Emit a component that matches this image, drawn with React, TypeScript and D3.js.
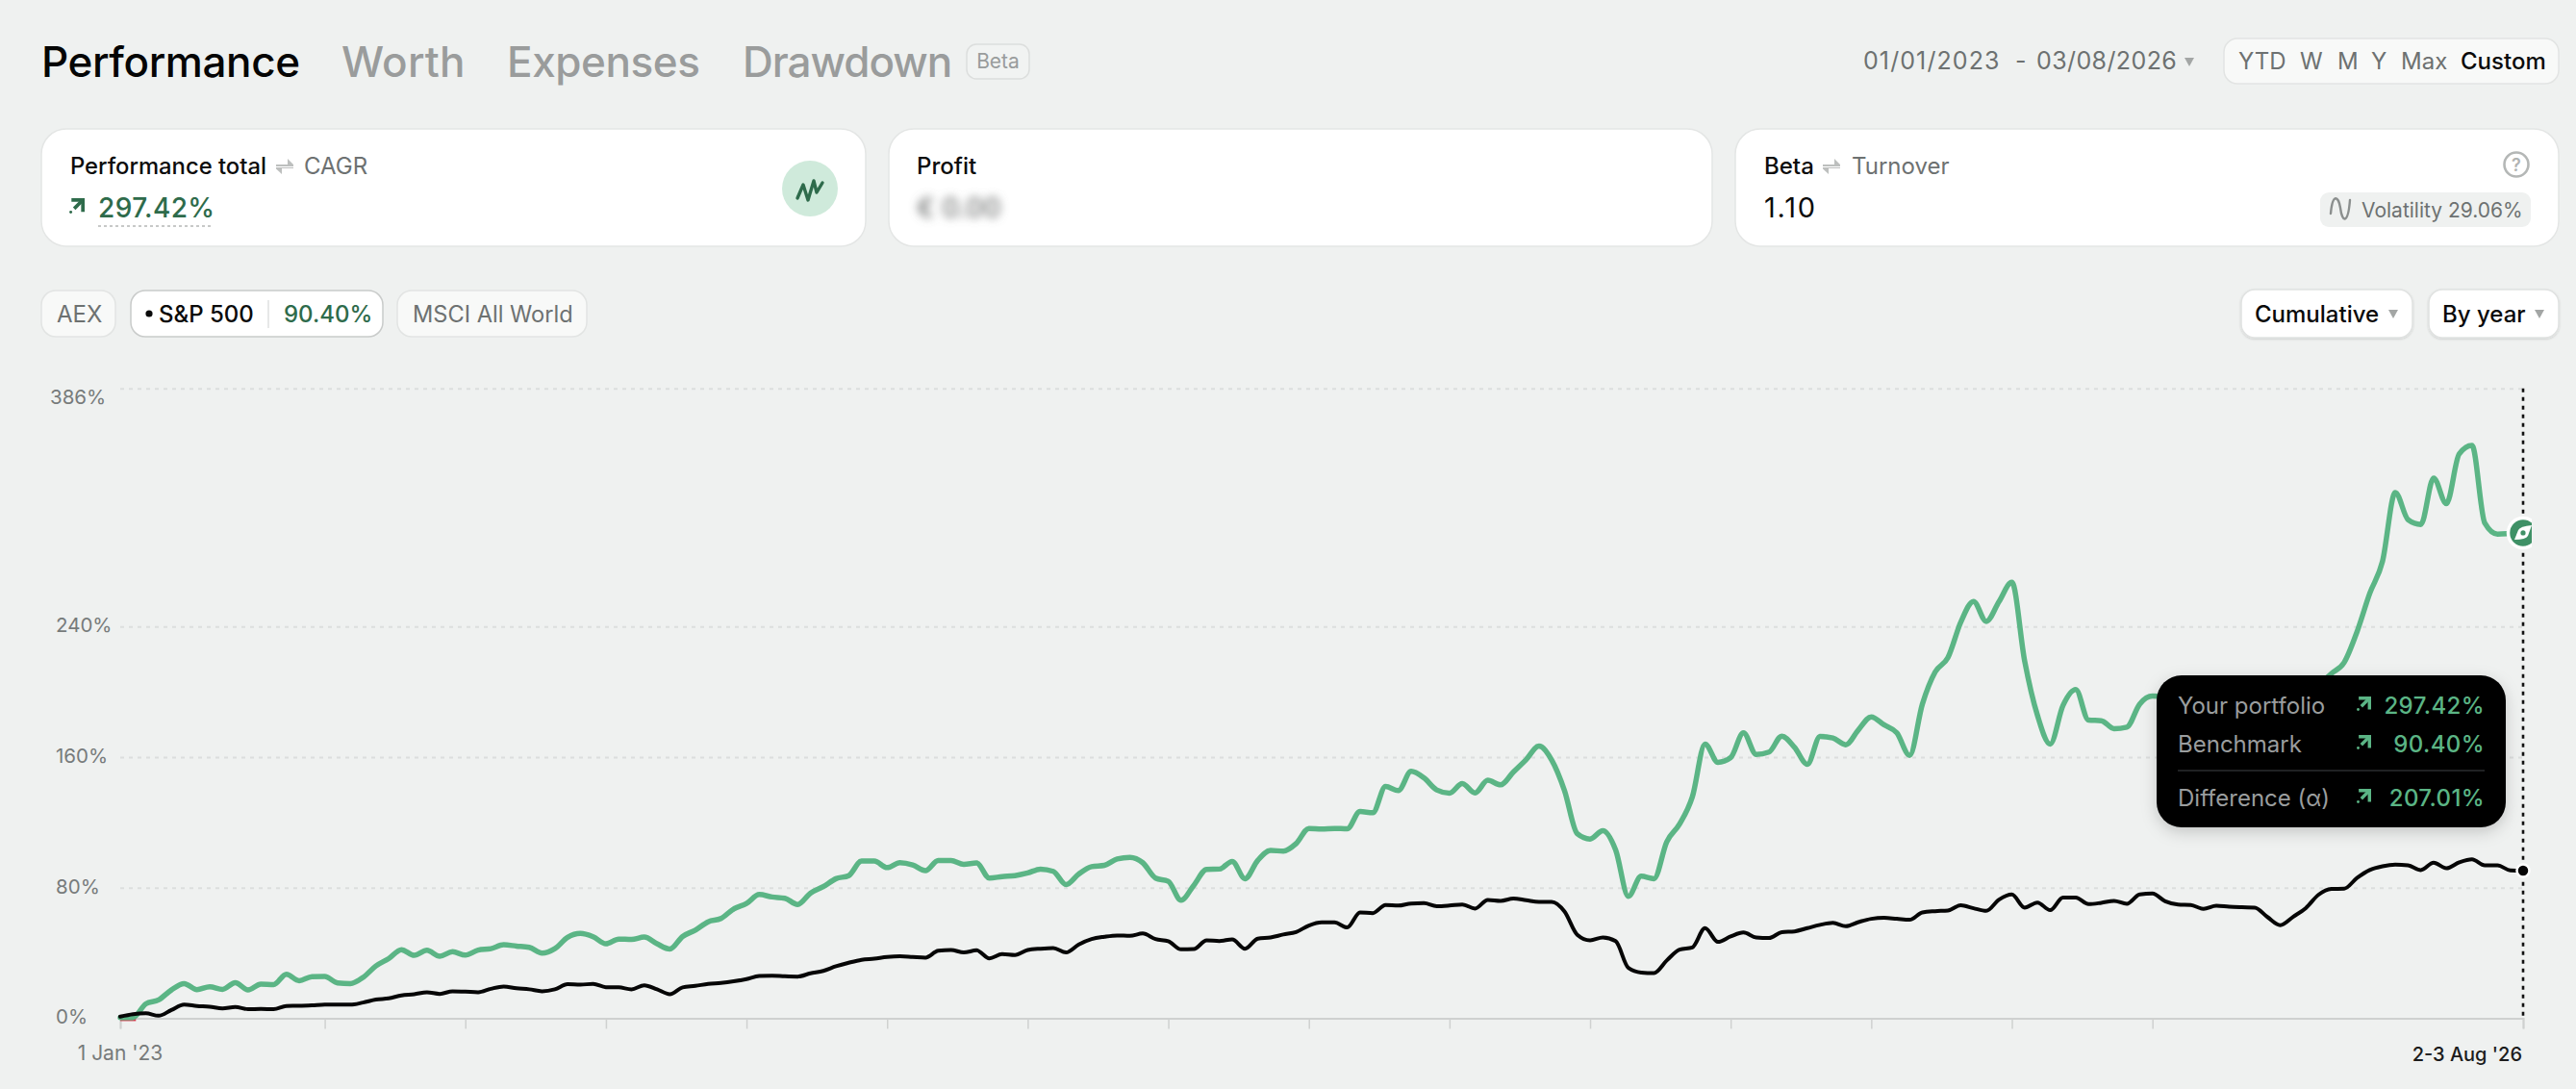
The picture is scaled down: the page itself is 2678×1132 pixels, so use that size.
import React, { useEffect, useRef } from "react";
import * as d3 from "d3";

// values, one per step of the time axis (percent)
const portfolio = [
  0.4, 0.4, 8.8, 11.2, 17.3, 21.2, 17.5, 19.3, 17.7, 21.8, 17.3, 20.8, 20.6, 26.9, 23.0, 25.5, 25.6, 21.6, 21.2, 25.0, 32, 36.5, 42, 38.5, 41.6, 38, 40.7,
  38.7, 41.7, 42.6, 45, 44.2, 43.4, 39.9, 42.6, 49.5, 51.9, 49.9, 45.6, 48.5, 48.3, 49.7, 45.6, 42.4, 50.1, 54, 59.1, 61.1, 67, 70.3, 75.8, 74.3, 73.5, 69.7,
  76.6, 80.6, 85.5, 87.4, 96.3, 96.3, 92.3, 95.3, 93.9, 90.4, 96.7, 96.7, 94.3, 95.1, 85.9, 86.8, 87.4, 89, 91.4, 90, 81.9, 88.4, 92.9, 93.7, 97.6, 98.6, 95.3,
  85.9, 83.9, 72.3, 81.5, 91.2, 91.4, 96.1, 85.5, 96.7, 102.8, 102.4, 107, 116.3, 115.9, 116.3, 116.1, 126.7, 125.9, 142, 139.5, 151.3, 147.3, 139.9, 137.9, 143.8, 138.1, 145.8,
  143, 150.9, 158.5, 166.8, 158.2, 139.5, 113, 109.8, 114.9, 103.1, 74.7, 87, 85.5, 108.1, 118.9, 135.6, 168, 156.8, 159.7, 174.9, 161.7, 163.1, 172.9, 166, 155.6, 172.7, 171.7,
  167.6, 176.8, 184.7, 179.8, 174.9, 161.1, 192.5, 212.2, 221, 242.6, 255.4, 243.2, 255.4, 267.2, 219, 185.7, 168, 191.6, 201.4, 182.7, 182.3, 177.4, 178.4, 192.5, 197.4, 197, 195,
  193, 190, 188, 189, 190, 190, 191, 192, 194, 198, 204, 211.2, 218, 236.7, 260.3, 280, 322.2, 305.5, 302.6, 331, 315.3, 345.8, 351, 303.5, 296.7, 297, 297.42,
];

const benchmark = [
  1, 2.5, 3, 1.5, 5, 8.3, 7.5, 7, 6, 6.9, 5.5, 5.7, 5.5, 7.5, 7.6, 7.9, 8.3, 8.4, 8.3, 9.6, 11.4, 12.2, 14, 14.7, 15.9, 14.9, 16.5,
  16.3, 15.9, 18, 19.4, 18.3, 17.7, 16.5, 17.7, 20.8, 20.6, 21, 19, 18.9, 17.7, 20.2, 17.7, 14.7, 18.9, 19.8, 21, 21.6, 22.6, 24, 25.9, 26.1, 25.7, 25.5,
  27.5, 29, 31.8, 34, 35.8, 36.5, 37.5, 37.9, 37.5, 37.1, 41.3, 41.8, 40.3, 41.6, 36.7, 39.3, 38.7, 41.8, 42.6, 43, 40.3, 45.2, 48.5, 49.9, 50.7, 50.5, 51.9,
  48.5, 47.2, 42.2, 42.4, 47.7, 47.3, 48.3, 42.6, 48.7, 49.5, 51.3, 52.8, 56.8, 58.7, 58.7, 55.6, 64.8, 64.4, 69.4, 69, 70.3, 70.5, 68.6, 69, 69.7, 67.2, 72.5,
  71.9, 73.3, 72.3, 71.3, 71.3, 65.4, 51.1, 47.7, 49.5, 47.2, 30.8, 28, 27.7, 35.4, 42, 43.4, 55.2, 46.8, 50.1, 52.5, 49.5, 49.1, 52.7, 53.2, 55.2, 57.2, 58.4,
  56.4, 58.9, 60.9, 61.5, 60.9, 60.3, 64.8, 65.6, 66, 69.2, 67.4, 65.8, 72.7, 75.8, 67.8, 70.9, 66.2, 73.9, 73.9, 69.9, 70.7, 71.9, 70.1, 75.8, 76.4, 71.7, 69.7,
  69.4, 67, 68.9, 68.3, 68, 67.8, 62, 57, 62.1, 67.5, 75.7, 79.2, 79.4, 85.9, 90.8, 93.1, 94.1, 93.7, 90.8, 95.3, 91.9, 95.5, 97.4, 93.7, 93.7, 90.6, 90.4,
];

const yTicks = [0, 80, 160, 240, 386];
const xTicks = [0, 16, 27, 38, 49, 60, 71, 82, 93, 104, 115, 126, 137, 148, 159, 188];
const tabs = ["Performance", "Worth", "Expenses", "Drawdown"];
const ranges = ["YTD", "W", "M", "Y", "Max", "Custom"];
const tooltipRows = [
  ["Your portfolio", "297.42%"],
  ["Benchmark", "90.40%"],
  ["Difference (α)", "207.01%"],
];

const WIDTH = 2678;
const HEIGHT = 1132;
const BG = "#eff1f0";
const GREEN = "#5bb585";
const DARK_GREEN = "#2e6b4b";
const GREY = "#6d7171";
const FONT = "Inter, 'Noto Sans', sans-serif";

const x = d3.scaleLinear().domain([0, portfolio.length - 1]).range([125, 2623]);
const y = d3.scaleLinear().domain([0, 386]).range([1058.4, 403.7]);

const line = d3
  .line<number>()
  .x((_, i) => x(i))
  .y(d => y(d))
  .curve(d3.curveMonotoneX);

const Arrow = ({ px, py, s, color }: { px: number; py: number; s: number; color: string }) => (
  <g transform={`translate(${px},${py}) scale(${s / 14})`} fill="none" stroke={color} strokeWidth={3.2}>
    <path d="M2 1.6H12.4V12.5" />
    <path d="M12 2L4.5 9.5" />
    <circle cx={1.4} cy={12.6} r={1.3} fill={color} stroke="none" />
  </g>
);

const Swap = ({ px, py }: { px: number; py: number }) => (
  <g transform={`translate(${px},${py})`} fill="#bdbfbe">
    <path d="M0 8H12V2L18 8V10H0Z" />
    <path d="M18 12H6V18L0 12.5V11H18Z" />
  </g>
);

const Caret = ({ px, py }: { px: number; py: number }) => (
  <path d={`M${px - 5} ${py - 4}H${px + 5}L${px} ${py + 5}Z`} fill="#a3a6a5" />
);

const Pill = ({ x0, x1, y0, y1, r, fill, stroke, shadow }: any) => (
  <rect
    x={x0}
    y={y0}
    width={x1 - x0}
    height={y1 - y0}
    rx={r}
    fill={fill}
    stroke={stroke}
    strokeWidth={1.5}
    filter={shadow ? "url(#btnShadow)" : undefined}
  />
);

const App = () => {
  const gridRef = useRef<SVGGElement>(null);
  const axisRef = useRef<SVGGElement>(null);

  useEffect(() => {
    // dotted horizontal grid
    const grid = d3.select(gridRef.current as SVGGElement);
    grid.call(
      d3.axisLeft(y).tickValues(yTicks.slice(1)).tickSize(-(x.range()[1] - x.range()[0])).tickFormat(() => "") as any
    );
    grid.select(".domain").remove();
    grid
      .selectAll(".tick line")
      .attr("stroke", "#dcdedd")
      .attr("stroke-width", 2)
      .attr("stroke-dasharray", "4 5");

    const axis = d3.select(axisRef.current as SVGGElement);
    axis.call(d3.axisBottom(x).tickValues(xTicks).tickSizeOuter(0).tickSize(11).tickFormat(() => "") as any);
    axis.select(".domain").attr("stroke", "#cfd1d0").attr("stroke-width", 2);
    axis.selectAll(".tick line").attr("stroke", "#cfd1d0").attr("stroke-width", 1.5);
  }, []);

  const tabX = [43, 355, 527, 772];
  const tabSpacing = [-0.4, 0.2, -0.4, -1];
  const rangeX = [2327, 2391, 2430, 2465, 2496, 2558];
  const lastX = x(portfolio.length - 1);
  const lastGreen = y(portfolio[portfolio.length - 1]);
  const lastBlack = y(benchmark[benchmark.length - 1]);

  return (
    <svg
      width={WIDTH}
      height={HEIGHT}
      viewBox={`0 0 ${WIDTH} ${HEIGHT}`}
      style={{ position: "absolute", left: 0, top: 0, display: "block" }}
      fontFamily={FONT}
    >
      <defs>
        <filter id="blurText" x="-30%" y="-60%" width="160%" height="220%">
          <feGaussianBlur stdDeviation="5" />
        </filter>
        <filter id="tipShadow" x="-10%" y="-20%" width="120%" height="150%">
          <feDropShadow dx="0" dy="5" stdDeviation="8" floodColor="#000" floodOpacity="0.18" />
        </filter>
        <filter id="btnShadow" x="-10%" y="-20%" width="120%" height="150%">
          <feDropShadow dx="0" dy="1" stdDeviation="1" floodColor="#000" floodOpacity="0.15" />
        </filter>
        <clipPath id="chartClip">
          <rect x={0} y={380} width={2632} height={700} />
        </clipPath>
      </defs>

      <rect width={WIDTH} height={HEIGHT} fill={BG} />

      {/* top tabs */}
      {tabs.map((t, i) => (
        <text key={t} x={tabX[i]} y={80} fontSize={44} fontWeight={500} letterSpacing={tabSpacing[i]} fill={i === 0 ? "#050505" : "#9a9c9c"}>
          {t}
        </text>
      ))}
      <Pill x0={1005} x1={1070} y0={46} y1={82} r={10} fill="#f1f3f2" stroke="#dcdedd" />
      <text x={1037.5} y={71} fontSize={21} textAnchor="middle" fill="#999c9c">Beta</text>

      <text x={1937} y={72} fontSize={25} letterSpacing={1.1} fill={GREY}>01/01/2023</text>
      <text x={2095} y={72} fontSize={25} fill={GREY}>-</text>
      <text x={2117} y={72} fontSize={25} letterSpacing={0.4} fill={GREY}>03/08/2026</text>
      <Caret px={2276} py={64} />
      <Pill x0={2312} x1={2660} y0={40} y1={87} r={14} fill="#f8f9f8" stroke="#e2e4e3" />
      {ranges.map((r, i) => (
        <text key={r} x={rangeX[i]} y={72} fontSize={24} fontWeight={i === 5 ? 500 : 400} fill={i === 5 ? "#0a0a0a" : GREY}>
          {r}
        </text>
      ))}

      {/* cards */}
      <Pill x0={43} x1={900} y0={134} y1={256} r={26} fill="#fff" stroke="#e4e6e5" />
      <Pill x0={924} x1={1780} y0={134} y1={256} r={26} fill="#fff" stroke="#e4e6e5" />
      <Pill x0={1804} x1={2660} y0={134} y1={256} r={26} fill="#fff" stroke="#e4e6e5" />

      <text x={73} y={181} fontSize={23.8} fontWeight={500} fill="#0c0c0c">Performance total</text>
      <Swap px={287} py={163} />
      <text x={316} y={181} fontSize={24} fill={GREY}>CAGR</text>
      <Arrow px={72} py={206} s={16} color={DARK_GREEN} />
      <text x={102} y={226} fontSize={28} fontWeight={500} letterSpacing={0.4} fill={DARK_GREEN}>297.42%</text>
      <line x1={102} x2={222} y1={235} y2={235} stroke="#b5b8b7" strokeWidth={1.5} strokeDasharray="3 3" />
      <circle cx={842} cy={196} r={29} fill="#cfeadb" />
      <path d="M829 206L835 192L840 208L846 188L849 200L855 190" fill="none" stroke={DARK_GREEN} strokeWidth={3.4} strokeLinejoin="round" strokeLinecap="round" />

      <text x={953} y={181} fontSize={24} fontWeight={500} fill="#0c0c0c">Profit</text>
      <text x={953} y={226} fontSize={28} fontWeight={500} fill="#6f7271" filter="url(#blurText)">€ 0.00</text>

      <text x={1834} y={181} fontSize={24} fontWeight={500} fill="#0c0c0c">Beta</text>
      <Swap px={1895} py={163} />
      <text x={1925} y={181} fontSize={24} fill={GREY}>Turnover</text>
      <text x={1834} y={226} fontSize={29} fontWeight={400} letterSpacing={1.8} fill="#0c0c0c">1.10</text>
      <circle cx={2616} cy={171} r={12.5} fill="none" stroke="#b4b7b6" strokeWidth={2.6} />
      <text x={2616} y={178} fontSize={18} fontWeight={600} textAnchor="middle" fill="#b0b3b2">?</text>
      <Pill x0={2412} x1={2631} y0={200} y1={236} r={9} fill="#eff1f0" stroke="none" />
      <path d="M2423 222C2425 200 2431 204 2433 216C2435 232 2441 233 2443 208" fill="none" stroke="#8b8f8e" strokeWidth={2.4} strokeLinecap="round" />
      <text x={2455} y={226} fontSize={21} fill={GREY}>Volatility 29.06%</text>

      {/* benchmark buttons */}
      <Pill x0={43} x1={120} y0={302} y1={350} r={15} fill="#f8f9f8" stroke="#e2e4e3" />
      <text x={59} y={335} fontSize={24} fill={GREY}>AEX</text>
      <Pill x0={136} x1={398} y0={302} y1={350} r={15} fill="#fff" stroke="#c9cbca" />
      <circle cx={155} cy={326} r={3.6} fill="#0a0a0a" />
      <text x={165} y={335} fontSize={24} fontWeight={500} fill="#0a0a0a">S&amp;P 500</text>
      <line x1={279} x2={279} y1={312} y2={341} stroke="#dfe1e0" strokeWidth={1.5} />
      <text x={295} y={335} fontSize={24} fontWeight={500} fill={DARK_GREEN}>90.40%</text>
      <Pill x0={413} x1={610} y0={302} y1={350} r={15} fill="#f8f9f8" stroke="#e2e4e3" />
      <text x={429} y={335} fontSize={23.6} fill={GREY}>MSCI All World</text>

      <Pill x0={2330} x1={2508} y0={301} y1={351} r={14} fill="#fff" stroke="#e0e2e1" shadow />
      <text x={2344} y={335} fontSize={24} fontWeight={500} fill="#0a0a0a">Cumulative</text>
      <Caret px={2488} py={326} />
      <Pill x0={2525} x1={2660} y0={301} y1={351} r={14} fill="#fff" stroke="#e0e2e1" shadow />
      <text x={2539} y={335} fontSize={24} fontWeight={500} fill="#0a0a0a">By year</text>
      <Caret px={2640} py={326} />

      {/* chart */}
      <g ref={gridRef} transform={`translate(${x.range()[0]},0)`} />
      <g ref={axisRef} transform={`translate(0,${y(0)})`} />

      {yTicks.map(v => (
        <text
          key={v}
          x={v === 386 ? 52 : 58}
          y={v === 386 ? y(v) + 16 : y(v) + 6}
          fontSize={20.5}
          fill="#777b7b"
        >
          {v}%
        </text>
      ))}
      <text x={125} y={1102} fontSize={21} textAnchor="middle" fill="#777b7b">1 Jan '23</text>
      <text x={2622} y={1103} fontSize={20} fontWeight={500} textAnchor="end" fill="#1c1c1c">2-3 Aug '26</text>

      <line x1={x(0)} x2={x(1) + 3} y1={y(0) + 1} y2={y(0) + 1} stroke="#d63a4c" strokeWidth={4} />

      <g clipPath="url(#chartClip)">
        <line x1={lastX} x2={lastX} y1={y(386)} y2={y(0)} stroke="#111" strokeWidth={2.6} strokeDasharray="4 5" />
        <path d={line(portfolio) ?? ""} fill="none" stroke={GREEN} strokeWidth={5.5} strokeLinejoin="round" strokeLinecap="round" />
        <path d={line(benchmark) ?? ""} fill="none" stroke="#060606" strokeWidth={4} strokeLinejoin="round" strokeLinecap="round" />

        <circle cx={lastX} cy={lastGreen} r={15.5} fill="#3f9166" stroke="#fff" strokeWidth={3.5} />
        <path
          transform={`translate(${lastX},${lastGreen})`}
          d="M-9 7L-5 -3Q-3 -7 9 -8L5 3Q3 7 -9 7Z"
          fill="#fff"
        />
        <circle cx={lastX} cy={lastGreen} r={2.6} fill="#3f9166" />
        <circle cx={lastX} cy={lastBlack} r={6.5} fill="#060606" stroke="#fff" strokeWidth={2.5} />
      </g>

      {/* tooltip */}
      <rect x={2242} y={702} width={363} height={158} rx={26} fill="#020506" filter="url(#tipShadow)" />
      {tooltipRows.map((row, i) => {
        const base = [742, 782, 838][i];
        return (
          <g key={row[0]}>
            <text x={2264} y={base} fontSize={24} fill="#9a9d9e">{row[0]}</text>
            <Arrow px={2450} py={base - 18} s={15} color={GREEN} />
            <text x={2583} y={base} fontSize={24} textAnchor="end" fontWeight={500} letterSpacing={0.4} fill={GREEN}>{row[1]}</text>
          </g>
        );
      })}
      <line x1={2264} x2={2583} y1={801} y2={801} stroke="#2b2e2f" strokeWidth={1.5} />
    </svg>
  );
};

export default App;
